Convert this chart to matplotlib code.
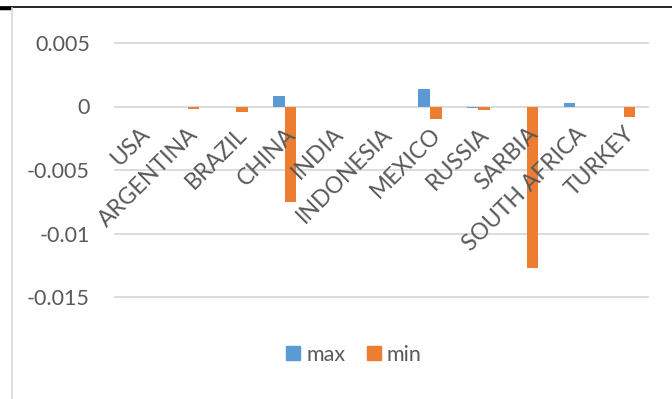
import numpy as np
import matplotlib.pyplot as plt
from matplotlib.lines import Line2D

countries = ["USA", "ARGENTINA", "BRAZIL", "CHINA", "INDIA", "INDONESIA",
             "MEXICO", "RUSSIA", "SARBIA", "SOUTH AFRICA", "TURKEY"]
max_vals = [-0.00002, -0.00002, -0.00002, 0.0008, -0.00002, -0.00005,
            0.0014, -0.0001, -0.00002, 0.00025, 0.0]
min_vals = [-0.00004, -0.0002, -0.0004, -0.0075, -0.00001, -0.00005,
            -0.00095, -0.00025, -0.0127, 0.0, -0.0008]
yticks = [0.005, 0, -0.005, -0.01, -0.015]
ytick_labels = ["0.005", "0", "-0.005", "-0.01", "-0.015"]

BLUE = "#5B9BD5"
ORANGE = "#ED7D31"
GRID = "#D9D9D9"
TEXT = "#595959"

plt.rcParams['font.family'] = ['Lato', 'DejaVu Sans']

fig = plt.figure(figsize=(6.72, 3.99), dpi=100)
ax = fig.add_axes([115 / 672, 1 - 297 / 399, 533 / 672, 254 / 399])

x = np.arange(len(countries))
w = 0.24
ax.bar(x - w / 2, max_vals, w, color=BLUE, zorder=2)
ax.bar(x + w / 2, min_vals, w, color=ORANGE, zorder=2)

ax.set_xlim(-0.5, len(countries) - 0.5)
ax.set_ylim(-0.015, 0.005)
for t in yticks:
    ax.axhline(t, color=GRID, lw=1.3, zorder=1, clip_on=False)

ax.set_yticks(yticks)
ax.set_yticklabels(ytick_labels, fontsize=15.5, color=TEXT)
ax.tick_params(axis='y', length=0, pad=18)
ax.set_xticks([])
for s in ax.spines.values():
    s.set_visible(False)

# category labels hang below the zero line, rotated
for i, name in enumerate(countries):
    ax.annotate(name, xy=(i, 0), xytext=(0, -17), textcoords='offset pixels',
                rotation=45, rotation_mode='anchor', ha='right', va='top',
                fontsize=16.5, color=TEXT, zorder=5)

handles = [Line2D([], [], marker='s', ls='', color=BLUE, markersize=10),
           Line2D([], [], marker='s', ls='', color=ORANGE, markersize=10)]
fig.legend(handles, ["max", "min"], loc='center', bbox_to_anchor=(352 / 672, 1 - 355 / 399),
           ncol=2, frameon=False, fontsize=15.5, labelcolor=TEXT,
           handletextpad=0.1, columnspacing=0.8, handlelength=1.0)

# frame edges
fig.add_artist(Line2D([0, 1], [1 - 7 / 399] * 2, color='black', lw=1.2))
fig.add_artist(Line2D([0, 10 / 672], [1 - 7.5 / 399] * 2, color='black', lw=2.5))
fig.add_artist(Line2D([12 / 672] * 2, [0, 1 - 8 / 399], color=GRID, lw=1.2))

fig.savefig("out.png", dpi=100)
